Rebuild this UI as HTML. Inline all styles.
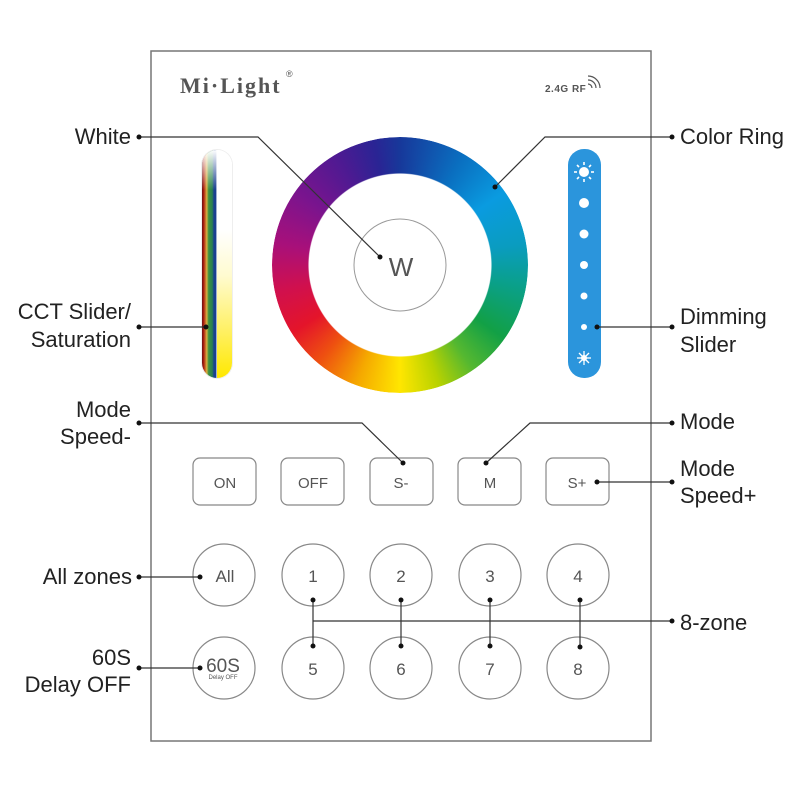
<!DOCTYPE html>
<html><head><meta charset="utf-8"><style>
html,body{margin:0;padding:0;background:#fff;}
.wrap{position:relative;width:800px;height:800px;overflow:hidden;}
.ring{position:absolute;left:272px;top:137px;width:256px;height:256px;border-radius:50%;
background:conic-gradient(from 0deg,#17389a 0deg,#0a6fc0 30deg,#0a9be0 55deg,#0a9cc0 80deg,#0aa08a 100deg,#12a046 125deg,#55b830 145deg,#b8d200 162deg,#ffe600 180deg,#f5a800 200deg,#ee5010 220deg,#e4142a 238deg,#d0104e 258deg,#a8107a 280deg,#7a148e 305deg,#4e1a92 330deg,#2a2494 348deg,#17389a 360deg);
-webkit-mask:radial-gradient(circle,transparent 91px,#000 92px);mask:radial-gradient(circle,transparent 91px,#000 92px);}
.cct{position:absolute;left:202px;top:150px;width:30px;height:228px;border-radius:15px;overflow:hidden;
background:linear-gradient(to right,#6a1010 0,#b02010 6%,#d8b040 16%,#3c9040 22%,#2a8050 34%,#1a4090 40%,#1a4090 46%,#fff 50%);box-shadow:0 0 0 1px #eee;}
.cct .y{position:absolute;left:15px;top:0;right:0;bottom:0;background:linear-gradient(to bottom,#fff 0,#fff 35%,#fffbd0 55%,#fff060 80%,#ffe800 100%);}
.cct .fade{position:absolute;left:0;right:0;top:0;height:40px;background:linear-gradient(to bottom,#fff,rgba(255,255,255,0));}
.dim{position:absolute;left:568px;top:149px;width:33px;height:229px;border-radius:16px;background:#2b95dc;}
</style></head><body><div class="wrap">
<div class="ring"></div>
<div class="cct"><div class="y"></div><div class="fade"></div></div>
<div class="dim"></div>
<svg width="800" height="800" style="position:absolute;left:0;top:0" font-family="Liberation Sans, Arial, sans-serif">
<rect x="151" y="51" width="500" height="690" fill="none" stroke="#777" stroke-width="1.5"/>
<text x="180" y="93" font-family="Liberation Serif, serif" font-weight="bold" font-size="22" fill="#555" letter-spacing="2">Mi·Light</text>
<text x="286" y="77" font-size="9" fill="#555">®</text>
<text x="545" y="92" font-size="10" font-weight="bold" fill="#555" letter-spacing="0.5">2.4G RF</text>
<path d="M588 84a4 4 0 0 1 4 4 M588 80a8 8 0 0 1 8 8 M588 76a12 12 0 0 1 12 12" stroke="#555" fill="none" stroke-width="1.2"/>
<circle cx="400" cy="265" r="46" fill="none" stroke="#999" stroke-width="1"/>
<text x="401" y="276" font-size="26" fill="#555" text-anchor="middle">W</text>
<g fill="#fff">
<circle cx="584" cy="172" r="5"/>
<g stroke="#fff" stroke-width="1.6"><line x1="584" y1="162" x2="584" y2="165"/><line x1="584" y1="179" x2="584" y2="182"/><line x1="574" y1="172" x2="577" y2="172"/><line x1="591" y1="172" x2="594" y2="172"/><line x1="577" y1="165" x2="579" y2="167"/><line x1="589" y1="177" x2="591" y2="179"/><line x1="591" y1="165" x2="589" y2="167"/><line x1="577" y1="179" x2="579" y2="177"/></g>
<circle cx="584" cy="203" r="5"/><circle cx="584" cy="234" r="4.5"/><circle cx="584" cy="265" r="4"/><circle cx="584" cy="296" r="3.5"/><circle cx="584" cy="327" r="3"/>
<circle cx="584" cy="358" r="3"/>
<g stroke="#fff" stroke-width="1.3"><line x1="584" y1="351" x2="584" y2="365"/><line x1="577" y1="358" x2="591" y2="358"/><line x1="579" y1="353" x2="589" y2="363"/><line x1="589" y1="353" x2="579" y2="363"/></g>
</g>
<g fill="none" stroke="#888" stroke-width="1.2">
<rect x="193" y="458" width="63" height="47" rx="7"/><rect x="281" y="458" width="63" height="47" rx="7"/><rect x="370" y="458" width="63" height="47" rx="7"/><rect x="458" y="458" width="63" height="47" rx="7"/><rect x="546" y="458" width="63" height="47" rx="7"/>
<circle cx="224" cy="575" r="31"/><circle cx="313" cy="575" r="31"/><circle cx="401" cy="575" r="31"/><circle cx="490" cy="575" r="31"/><circle cx="578" cy="575" r="31"/>
<circle cx="224" cy="668" r="31"/><circle cx="313" cy="668" r="31"/><circle cx="401" cy="668" r="31"/><circle cx="490" cy="668" r="31"/><circle cx="578" cy="668" r="31"/>
</g>
<g font-size="15" fill="#555" text-anchor="middle">
<text x="225" y="488">ON</text><text x="313" y="488">OFF</text><text x="401" y="488">S-</text><text x="490" y="488">M</text><text x="577" y="488">S+</text>
<text x="225" y="582" font-size="17">All</text><text x="313" y="582" font-size="17">1</text><text x="401" y="582" font-size="17">2</text><text x="490" y="582" font-size="17">3</text><text x="578" y="582" font-size="17">4</text>
<text x="313" y="675" font-size="17">5</text><text x="401" y="675" font-size="17">6</text><text x="490" y="675" font-size="17">7</text><text x="578" y="675" font-size="17">8</text>
<text x="223" y="672" font-size="19">60S</text><text x="223" y="679" font-size="6">Delay OFF</text>
</g>
<g stroke="#333" stroke-width="1.2" fill="none">
<polyline points="139,137 258,137 380,257"/>
<polyline points="672,137 545,137 495,187"/>
<line x1="139" y1="327" x2="206" y2="327"/>
<line x1="672" y1="327" x2="597" y2="327"/>
<polyline points="139,423 362,423 403,463"/>
<polyline points="672,423 530,423 486,463"/>
<line x1="672" y1="482" x2="597" y2="482"/>
<line x1="139" y1="577" x2="200" y2="577"/>
<line x1="139" y1="668" x2="200" y2="668"/>
<line x1="313" y1="621" x2="672" y2="621"/>
<line x1="313" y1="600" x2="313" y2="646"/><line x1="401" y1="600" x2="401" y2="646"/><line x1="490" y1="600" x2="490" y2="646"/><line x1="580" y1="600" x2="580" y2="646"/>
</g>
<g fill="#111">
<circle cx="139" cy="137" r="2.5"/><circle cx="380" cy="257" r="2.5"/><circle cx="672" cy="137" r="2.5"/><circle cx="495" cy="187" r="2.5"/>
<circle cx="139" cy="327" r="2.5"/><circle cx="206" cy="327" r="2.5"/><circle cx="672" cy="327" r="2.5"/><circle cx="597" cy="327" r="2.5"/>
<circle cx="139" cy="423" r="2.5"/><circle cx="403" cy="463" r="2.5"/><circle cx="672" cy="423" r="2.5"/><circle cx="486" cy="463" r="2.5"/>
<circle cx="672" cy="482" r="2.5"/><circle cx="597" cy="482" r="2.5"/>
<circle cx="139" cy="577" r="2.5"/><circle cx="200" cy="577" r="2.5"/><circle cx="139" cy="668" r="2.5"/><circle cx="200" cy="668" r="2.5"/>
<circle cx="672" cy="621" r="2.5"/>
<circle cx="313" cy="600" r="2.5"/><circle cx="401" cy="600" r="2.5"/><circle cx="490" cy="600" r="2.5"/><circle cx="580" cy="600" r="2.5"/>
<circle cx="313" cy="646" r="2.5"/><circle cx="401" cy="646" r="2.5"/><circle cx="490" cy="646" r="2.5"/><circle cx="580" cy="647" r="2.5"/>
</g>
<g font-size="22" fill="#222" text-anchor="end">
<text x="131" y="144">White</text>
<text x="131" y="319">CCT Slider/</text><text x="131" y="347">Saturation</text>
<text x="131" y="417">Mode</text><text x="131" y="444">Speed-</text>
<text x="132" y="584">All zones</text>
<text x="131" y="665">60S</text><text x="131" y="692">Delay OFF</text>
</g>
<g font-size="22" fill="#222">
<text x="680" y="144">Color Ring</text>
<text x="680" y="324">Dimming</text><text x="680" y="352">Slider</text>
<text x="680" y="429">Mode</text>
<text x="680" y="476">Mode</text><text x="680" y="503">Speed+</text>
<text x="680" y="630">8-zone</text>
</g>
</svg>
</div></body></html>
